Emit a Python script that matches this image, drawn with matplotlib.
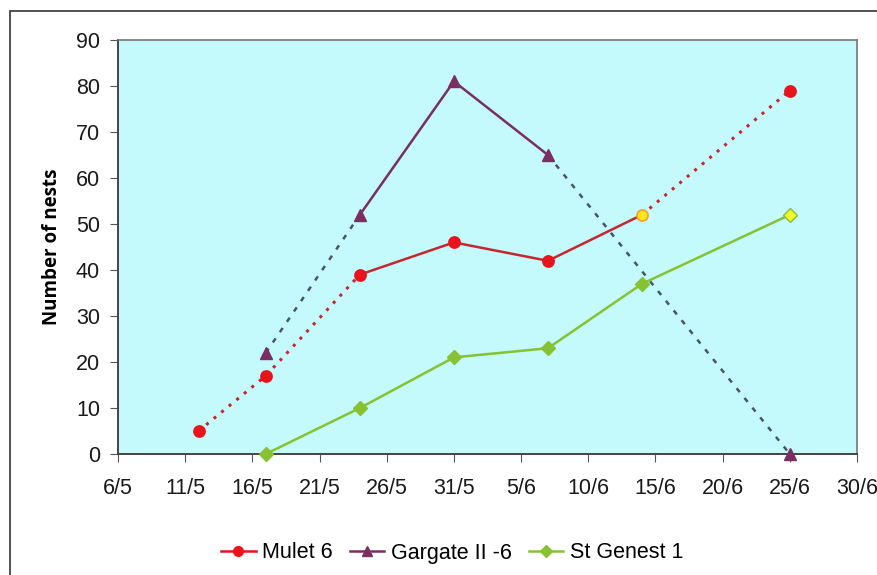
import datetime as dt
import matplotlib
matplotlib.use("Agg")
import matplotlib.pyplot as plt
from matplotlib.lines import Line2D
from matplotlib.patches import Rectangle

def d(s):
    day, month = s.split("/")
    return dt.date(2011, int(month), int(day))

mulet_dates = ["12/5", "17/5", "24/5", "31/5", "7/6", "14/6", "25/6"]
mulet_vals = [5, 17, 39, 46, 42, 52, 79]
gargate_dates = ["17/5", "24/5", "31/5", "7/6", "25/6"]
gargate_vals = [22, 52, 81, 65, 0]
genest_dates = ["17/5", "24/5", "31/5", "7/6", "14/6", "25/6"]
genest_vals = [0, 10, 21, 23, 37, 52]
tick_labels = ["6/5", "11/5", "16/5", "21/5", "26/5", "31/5", "5/6", "10/6", "15/6", "20/6", "25/6", "30/6"]

red = "#e8141b"
red_line = "#c8262e"
purple = "#7a2e62"
slate = "#4a5468"
green = "#86c232"

plt.rcParams['font.family'] = ['Liberation Sans', 'DejaVu Sans']

fig = plt.figure(figsize=(8.78, 5.75), dpi=100)
# outer frame (right and bottom edges cut off, as in the picture)
fig.patches.append(Rectangle((10/878, -10/575), 880/878, 574/575, transform=fig.transFigure,
                             fill=False, edgecolor="#333333", linewidth=1.2))
ax = fig.add_axes([118/878, 121/575, 739/878, 414/575])
ax.set_facecolor("#c4fafc")

mx = [d(s) for s in mulet_dates]
gx = [d(s) for s in gargate_dates]
sx = [d(s) for s in genest_dates]

# Mulet 6: dotted ends, solid middle
ax.plot(mx[0:3], mulet_vals[0:3], color=red_line, lw=2.2, ls=(0, (1, 2.2)), zorder=2)
ax.plot(mx[2:6], mulet_vals[2:6], color=red_line, lw=1.8, zorder=2)
ax.plot(mx[5:7], mulet_vals[5:7], color=red_line, lw=2.2, ls=(0, (1, 2.2)), zorder=2)
mfc = [red] * len(mx)
mfc[5] = "#ffe81a"
for x, y, c in zip(mx, mulet_vals, mfc):
    ax.plot([x], [y], marker="o", ms=8, color=c, mec="#ff9a30" if c != red else red,
            mew=1.2, zorder=4, clip_on=False)

# Gargate II -6: dashed ends, solid middle
ax.plot(gx[0:2], gargate_vals[0:2], color=slate, lw=1.8, ls=(0, (2, 3)), zorder=2)
ax.plot(gx[1:4], gargate_vals[1:4], color=purple, lw=1.8, zorder=2)
ax.plot(gx[3:5], gargate_vals[3:5], color=slate, lw=1.8, ls=(0, (2, 3)), zorder=2)
ax.plot(gx, gargate_vals, ls="none", marker="^", ms=9, color=purple, zorder=4, clip_on=False)

# St Genest 1
ax.plot(sx, genest_vals, color=green, lw=1.8, zorder=3)
sfc = [green] * len(sx)
sfc[-1] = "#f4f52a"
for x, y, c in zip(sx, genest_vals, sfc):
    ax.plot([x], [y], marker="D", ms=7, color=c, mec=green, zorder=4, clip_on=False)

ax.set_xlim(d("6/5"), d("30/6"))
ax.set_ylim(0, 90)
ax.set_xticks([d(s) for s in tick_labels])
ax.set_xticklabels(tick_labels)
ax.set_yticks(range(0, 91, 10))
ax.tick_params(direction="out", length=6, color="#555555", labelsize=15.5, labelcolor="#1a1a1a")
ax.tick_params(axis="x", pad=11)
ax.tick_params(axis="y", pad=7)
for side in ["top", "right"]:
    ax.spines[side].set_color("#777777")
    ax.spines[side].set_linewidth(1.2)
for side in ["left", "bottom"]:
    ax.spines[side].set_color("#444444")
    ax.spines[side].set_linewidth(1.4)
ax.set_ylabel("Number of nests", fontsize=13.5, fontweight="bold", family=["Open Sans", "DejaVu Sans"], labelpad=10)

handles = [
    Line2D([], [], color=red, marker="o", ms=7, lw=1.8),
    Line2D([], [], color=purple, marker="^", ms=7, lw=1.8),
    Line2D([], [], color=green, marker="D", ms=6, lw=1.8),
]
fig.legend(handles, ["Mulet 6", "Gargate II -6", "St Genest 1"], loc="center",
           bbox_to_anchor=(0.515, 22/575), ncol=3, frameon=False, fontsize=15.5,
           handlelength=1.6, handletextpad=0.3, columnspacing=0.8)

fig.savefig("out.png", dpi=100)
